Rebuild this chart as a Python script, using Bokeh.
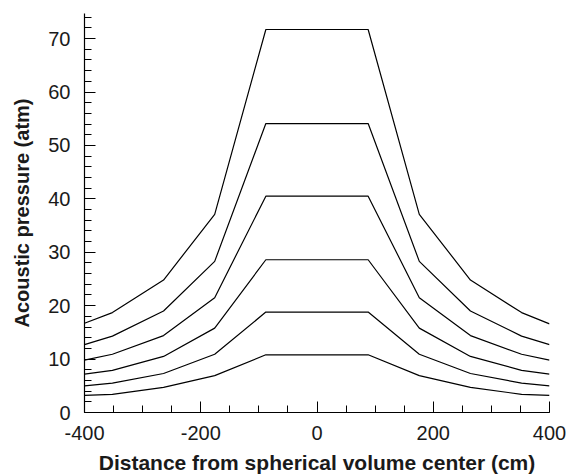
from bokeh.plotting import figure
from bokeh.embed import file_html
from bokeh.resources import INLINE
from bokeh.models import FixedTicker, Range1d

# Data
x_cm = [-400, -352, -264, -176, -88, 88, 176, 264, 352, 400]
curve1 = [16.7, 18.7, 24.8, 37.1, 71.7, 71.7, 37.1, 24.8, 18.7, 16.6]
curve2 = [12.7, 14.3, 19.0, 28.3, 54.1, 54.1, 28.3, 19.0, 14.3, 12.7]
curve3 = [9.8, 10.9, 14.4, 21.5, 40.5, 40.5, 21.5, 14.4, 10.9, 9.8]
curve4 = [7.2, 7.9, 10.5, 15.8, 28.6, 28.6, 15.8, 10.5, 7.9, 7.2]
curve5 = [5.0, 5.5, 7.3, 10.9, 18.8, 18.8, 10.9, 7.3, 5.5, 5.0]
curve6 = [3.2, 3.4, 4.7, 6.9, 10.8, 10.8, 6.9, 4.7, 3.4, 3.2]
curves = [curve1, curve2, curve3, curve4, curve5, curve6]

x_ticks = [-400, -200, 0, 200, 400]
x_tick_labels = ["-400", "-200", "0", "200", "400"]
y_ticks = [0, 10, 20, 30, 40, 50, 60, 70]

p = figure(width=567, height=476, output_backend="svg", toolbar_location=None,
           x_range=Range1d(-400, 400), y_range=Range1d(0, 74.7),
           min_border_left=84, min_border_right=18, min_border_top=13, min_border_bottom=64)
p.outline_line_color = None
p.grid.visible = False
p.background_fill_color = "white"
p.border_fill_color = "white"

for c in curves:
    p.line(x_cm, c, line_color="black", line_width=1.2)

p.xaxis.ticker = FixedTicker(ticks=x_ticks, minor_ticks=list(range(-400, 401, 50)))
p.yaxis.ticker = FixedTicker(ticks=y_ticks, minor_ticks=list(range(0, 75, 2)))
p.xaxis.major_label_overrides = {t: s for t, s in zip(x_ticks, x_tick_labels)}

for ax in (p.xaxis[0], p.yaxis[0]):
    ax.major_tick_in = 11
    ax.major_tick_out = 0
    ax.minor_tick_in = 7
    ax.minor_tick_out = 0
    ax.axis_line_color = "black"
    ax.axis_line_width = 1.2
    ax.major_tick_line_color = "black"
    ax.minor_tick_line_color = "black"
    ax.major_label_text_font = "Liberation Sans"
    ax.major_label_text_font_size = "20px"
    ax.major_label_text_color = "#1a1a1a"
    ax.axis_label_text_font = "Liberation Sans"
    ax.axis_label_text_font_style = "bold"
    ax.axis_label_text_color = "#1a1a1a"

p.xaxis.axis_label = "Distance from spherical volume center (cm)"
p.yaxis.axis_label = "Acoustic pressure (atm)"
p.xaxis.axis_label_text_font_size = "21px"
p.yaxis.axis_label_text_font_size = "20px"
p.xaxis.major_label_standoff = 13
p.yaxis.major_label_standoff = 14
p.xaxis.axis_label_standoff = 8
p.yaxis.axis_label_standoff = 12

open("out.html", "w").write(file_html(p, INLINE))
